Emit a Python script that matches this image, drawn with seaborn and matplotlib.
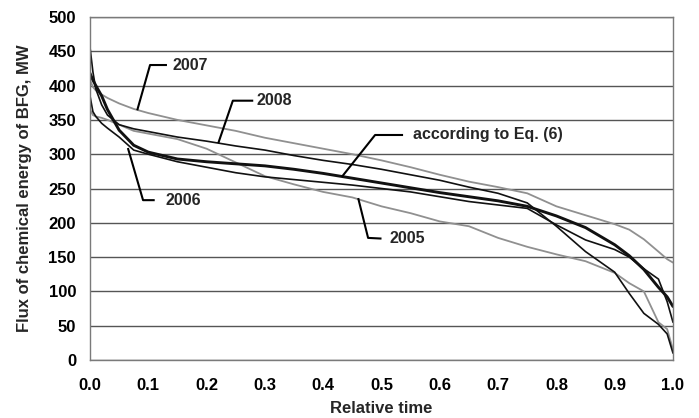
import numpy as np
import pandas as pd
import matplotlib
matplotlib.use("Agg")
import matplotlib.pyplot as plt
import seaborn as sns

# relative time grid shared by all duration curves
rel_time = [0.0, 0.005, 0.01, 0.02, 0.03, 0.05, 0.075, 0.1, 0.15, 0.2,
            0.25, 0.3, 0.35, 0.4, 0.45, 0.5, 0.55, 0.6, 0.65, 0.7,
            0.75, 0.8, 0.85, 0.9, 0.925, 0.95, 0.975, 0.99, 1.0]

flux_2005 = [365, 357, 355, 353, 350, 343, 334, 330, 322, 308,
             288, 268, 256, 245, 237, 224, 214, 202, 195, 178,
             165, 154, 144, 127, 112, 100, 55, 45, 15]
flux_2006 = [385, 362, 355, 345, 338, 325, 306, 300, 289, 281,
             273, 267, 263, 259, 255, 250, 245, 238, 231, 226,
             221, 197, 175, 161, 150, 133, 118, 85, 55]
flux_2007 = [408, 398, 393, 387, 382, 374, 366, 360, 350, 342,
             334, 324, 316, 308, 300, 291, 281, 270, 260, 252,
             243, 224, 211, 198, 190, 176, 158, 147, 142]
flux_2008 = [456, 420, 395, 372, 357, 343, 337, 333, 325, 319,
             312, 306, 298, 291, 285, 278, 270, 262, 252, 243,
             229, 195, 158, 128, 97, 68, 52, 38, 10]
flux_eq6 = [418, 408, 400, 385, 365, 335, 313, 303, 293, 289,
            286, 283, 278, 272, 265, 258, 251, 244, 238, 232,
            224, 210, 193, 168, 152, 132, 106, 92, 78]

GRAY = "#909090"
BLACK = "#111111"

sns.set_style("white")
plt.rcParams["font.family"] = ["Liberation Sans", "DejaVu Sans"]
plt.rcParams["font.weight"] = "bold"

fig = plt.figure(figsize=(6.99, 4.18), dpi=100)
ax = fig.add_axes([90 / 699, 1 - 360 / 418, 583 / 699, 343 / 418])

df = pd.DataFrame({"t": rel_time, "2005": flux_2005, "2006": flux_2006,
                   "2007": flux_2007, "2008": flux_2008, "eq6": flux_eq6})

styles = {
    "2005": (GRAY, 1.3),
    "2007": (GRAY, 1.3),
    "2006": (BLACK, 1.2),
    "2008": (BLACK, 1.2),
    "eq6":  (BLACK, 2.1),
}
for col, (color, lw) in styles.items():
    sns.lineplot(data=df, x="t", y=col, ax=ax, color=color, lw=lw,
                 estimator=None, sort=False)

ax.set_xlim(0, 1)
ax.set_ylim(0, 500)
ax.set_xticks(np.arange(0, 1.01, 0.1))
ax.set_yticks(np.arange(0, 501, 50))
ax.set_xticklabels([f"{v:.1f}" for v in np.arange(0, 1.01, 0.1)])
ax.yaxis.grid(True, color="#555555", lw=1.0)
ax.xaxis.grid(False)
for s in ax.spines.values():
    s.set_color("#7a7a7a")
    s.set_linewidth(1.0)
ax.tick_params(axis="both", direction="out", length=4, width=1,
               color="#7a7a7a", labelsize=12, labelcolor="black")
ax.tick_params(axis="x", pad=9)
ax.tick_params(axis="y", pad=6)
for lab in ax.get_xticklabels() + ax.get_yticklabels():
    lab.set_fontweight("bold")

ax.set_xlabel("Relative time", fontsize=12, fontweight="bold", labelpad=6)
ax.set_ylabel("Flux of chemical energy of BFG, MW", fontsize=12,
              fontweight="bold", labelpad=12)

# leader lines with labels
leaders = [
    ("2007", [(0.081, 364), (0.103, 430), (0.132, 430)], (0.142, 430)),
    ("2008", [(0.220, 316), (0.245, 378), (0.280, 378)], (0.286, 378)),
    ("according to Eq. (6)", [(0.432, 267), (0.489, 328), (0.537, 328)],
     (0.554, 328)),
    ("2006", [(0.065, 309), (0.091, 233), (0.111, 233)], (0.129, 232)),
    ("2005", [(0.460, 236), (0.477, 178), (0.500, 177)], (0.513, 177)),
]
for text, pts, pos in leaders:
    xs, ys = zip(*pts)
    ax.plot(xs, ys, color="black", lw=1.5, solid_capstyle="butt")
    ax.text(pos[0], pos[1], text, fontsize=11.5, fontweight="bold",
            ha="left", va="center")

fig.savefig("out.png", dpi=100)
